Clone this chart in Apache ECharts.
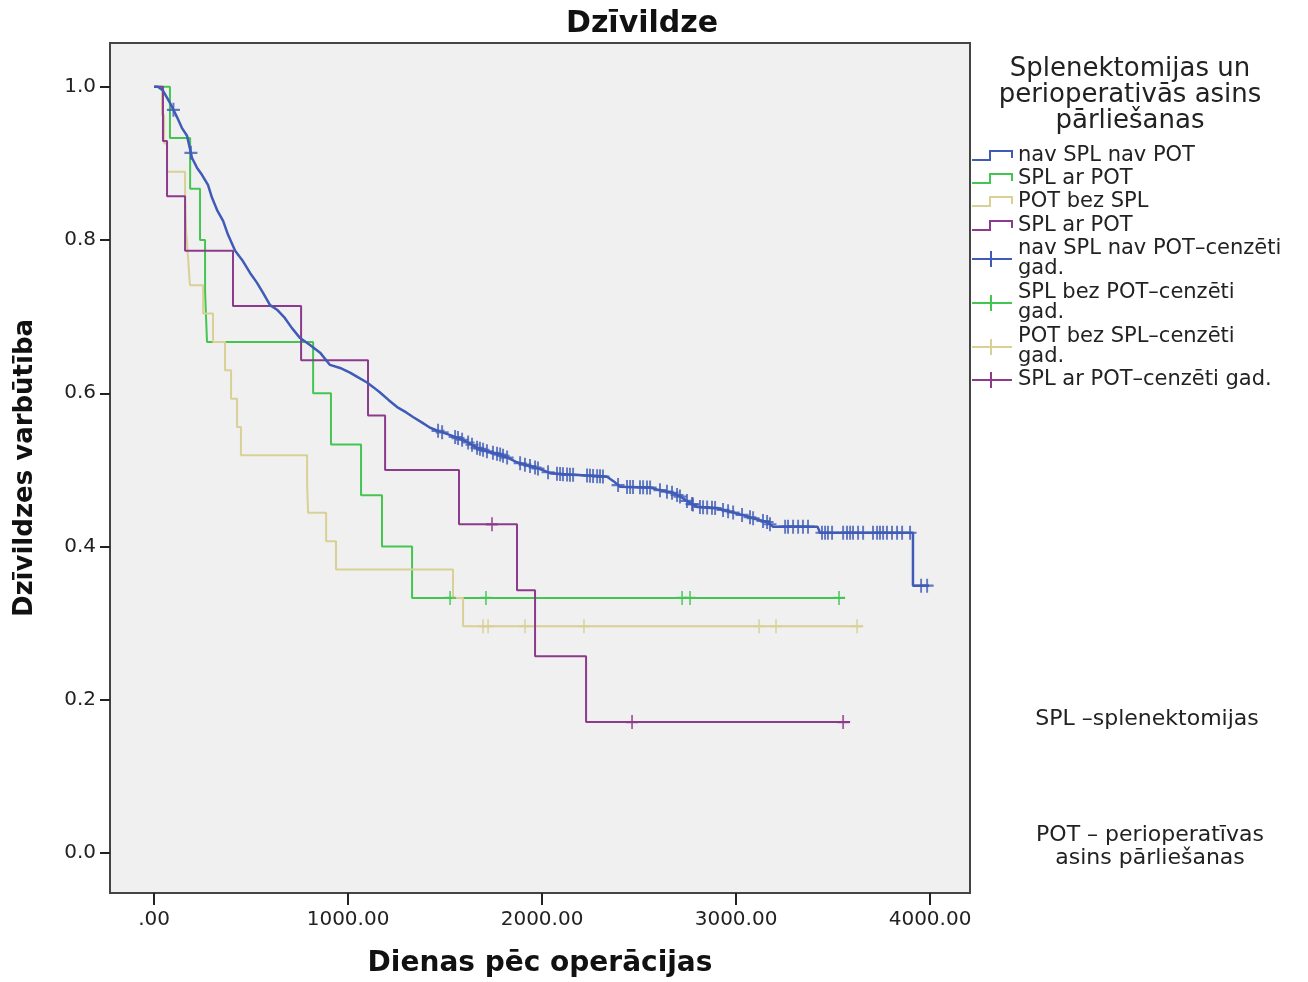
<!DOCTYPE html>
<html>
<head>
<meta charset="utf-8">
<title>Dzīvildze</title>
<script src="https://cdn.jsdelivr.net/npm/echarts@6/dist/echarts.min.js"></script>
<style>
  html, body { margin: 0; padding: 0; background: #fff; }
  #chart { width: 1308px; height: 982px; }
</style>
</head>
<body>
<div id="chart"></div>
<script>
// dati nolasīti no attēla (dienas, izdzīvošanas varbūtība)
var blueDays = [0, 20, 46, 82, 119, 144, 170, 196, 222, 247, 278, 299, 325, 356, 381, 418, 454, 495, 531, 562, 598, 634, 675, 711, 753, 804, 856, 907, 959, 1010, 1050, 1098, 1130, 1165, 1210, 1253, 1300, 1335, 1380, 1423, 1474, 1520, 1562, 1610, 1665, 1720, 1784, 1830, 1871, 1910, 1954, 2000, 2041, 2120, 2211, 2335, 2370, 2402, 2557, 2600, 2675, 2720, 2763, 2799, 2902, 2960, 3036, 3100, 3160, 3191, 3420, 3433, 3912, 3912, 3995];
var blueSurv = [1.0, 1.0, 0.995, 0.979, 0.960, 0.946, 0.936, 0.907, 0.894, 0.885, 0.872, 0.855, 0.839, 0.825, 0.807, 0.786, 0.774, 0.757, 0.744, 0.731, 0.715, 0.709, 0.698, 0.685, 0.672, 0.663, 0.653, 0.637, 0.633, 0.627, 0.621, 0.614, 0.608, 0.601, 0.591, 0.582, 0.575, 0.569, 0.562, 0.555, 0.550, 0.546, 0.542, 0.537, 0.529, 0.524, 0.520, 0.515, 0.510, 0.507, 0.504, 0.500, 0.496, 0.494, 0.493, 0.491, 0.485, 0.478, 0.477, 0.474, 0.470, 0.464, 0.457, 0.452, 0.450, 0.446, 0.441, 0.436, 0.432, 0.426, 0.426, 0.418, 0.418, 0.349, 0.349];
var blueCensor = [100, 190, 1464, 1485, 1552, 1567, 1588, 1619, 1639, 1665, 1680, 1696, 1716, 1747, 1768, 1784, 1799, 1820, 1887, 1912, 1938, 1964, 1979, 2031, 2077, 2093, 2108, 2129, 2144, 2160, 2232, 2247, 2263, 2284, 2299, 2314, 2392, 2438, 2454, 2469, 2505, 2521, 2541, 2557, 2608, 2644, 2670, 2696, 2711, 2747, 2773, 2778, 2814, 2830, 2851, 2876, 2892, 2933, 2959, 2985, 3031, 3072, 3088, 3139, 3160, 3175, 3253, 3268, 3294, 3320, 3345, 3371, 3443, 3459, 3474, 3495, 3552, 3572, 3588, 3603, 3629, 3655, 3706, 3727, 3742, 3758, 3778, 3804, 3830, 3856, 3897, 3954, 3985];

var greenDays = [0, 82, 186, 237, 263, 273, 820, 912, 1067, 1175, 1330, 3562];
var greenSurv = [1.0, 0.933, 0.867, 0.800, 0.733, 0.667, 0.600, 0.533, 0.467, 0.400, 0.333, 0.333];
var greenCensor = [1526, 1711, 2722, 2763, 3531];

var tanDays = [0, 41, 52, 67, 160, 165, 175, 185, 253, 304, 366, 397, 428, 448, 789, 794, 887, 938, 1541, 1593, 3655];
var tanSurv = [1.0, 0.963, 0.926, 0.889, 0.852, 0.815, 0.778, 0.741, 0.704, 0.667, 0.630, 0.593, 0.556, 0.519, 0.481, 0.444, 0.407, 0.370, 0.333, 0.296, 0.296];
var tanCensor = [1696, 1722, 1912, 2216, 3119, 3206, 3624];

var purpleDays = [0, 46, 67, 160, 407, 758, 1103, 1191, 1572, 1871, 1964, 2227, 3588];
var purpleSurv = [1.0, 0.929, 0.857, 0.786, 0.714, 0.643, 0.571, 0.500, 0.429, 0.343, 0.257, 0.171, 0.171];
var purpleCensor = [1742, 2464, 3552];

var xTicks = [0, 1000, 2000, 3000, 4000];
var yTicks = [0, 0.2, 0.4, 0.6, 0.8, 1.0];

var legendNames = [
  "nav SPL nav POT",
  "SPL ar POT",
  "POT bez SPL",
  "SPL ar POT",
  "nav SPL nav POT–cenzēti\ngad.",
  "SPL bez POT–cenzēti\ngad.",
  "POT bez SPL–cenzēti\ngad.",
  "SPL ar POT–cenzēti gad."
];

var BLUE = "#3F5BB7", GREEN = "#44C552", TAN = "#D8D095", PURPLE = "#8C3A8C";
var crossPath = "path://M0,5.1H12V6.9H0Z M5.1,0H6.9V12H5.1Z";

function pairs(days, surv) {
  return days.map(function (d, i) { return [d, surv[i]]; });
}
// cenzēto gadījumu y vērtība = līknes vērtība tajā dienā
function censorPoints(days, surv, cens, linear) {
  return cens.map(function (c) {
    var s = surv[0];
    for (var i = 0; i < days.length; i++) {
      if (days[i] <= c) {
        s = surv[i];
        if (linear && i + 1 < days.length && days[i + 1] > c) {
          var f = (c - days[i]) / (days[i + 1] - days[i]);
          s = surv[i] + f * (surv[i + 1] - surv[i]);
        }
      }
    }
    return [c, s];
  });
}

var chart = echarts.init(document.getElementById("chart"));

function stepSeries(name, color, days, surv, width, step) {
  return {
    name: name,
    type: "line",
    step: step,
    data: pairs(days, surv),
    showSymbol: false,
    lineStyle: { color: color, width: width },
    z: 2
  };
}
function censorSeries(name, color, days, surv, cens, size, linear) {
  return {
    name: name,
    type: "scatter",
    data: censorPoints(days, surv, cens, linear),
    symbol: crossPath,
    symbolSize: size,
    itemStyle: { color: color },
    z: 3
  };
}

// leģenda (zīmēta ar graphic)
var legendColors = [BLUE, GREEN, TAN, PURPLE, BLUE, GREEN, TAN, PURPLE];
var legendY = [156, 179, 202, 226, 259, 303, 347, 380];
var graphics = [];
legendNames.forEach(function (name, i) {
  var c = legendY[i];
  var col = legendColors[i];
  if (i < 4) {
    graphics.push({
      type: "polyline",
      shape: { points: [[972, c + 4], [990, c + 4], [990, c - 5], [1012, c - 5], [1012, c + 2]] },
      style: { stroke: col, lineWidth: 2, fill: null }
    });
  } else {
    graphics.push({
      type: "polyline",
      shape: { points: [[972, c], [1012, c]] },
      style: { stroke: col, lineWidth: 2, fill: null }
    });
    graphics.push({
      type: "polyline",
      shape: { points: [[991, c - 8], [991, c + 8]] },
      style: { stroke: col, lineWidth: 2, fill: null }
    });
  }
  graphics.push({
    type: "text",
    x: 1018,
    y: c,
    style: {
      text: name,
      font: "21px 'DejaVu Sans'",
      fill: "#222",
      verticalAlign: "middle",
      lineHeight: 20
    }
  });
});
graphics.push({
  type: "text",
  x: 1130, y: 95,
  style: {
    text: "Splenektomijas un\nperioperativās asins\npārliešanas",
    font: "26px 'DejaVu Sans'",
    fill: "#222",
    align: "center",
    verticalAlign: "middle",
    lineHeight: 26
  }
});
graphics.push({
  type: "text",
  x: 1147, y: 719,
  style: { text: "SPL –splenektomijas", font: "22px 'DejaVu Sans'", fill: "#222", align: "center", verticalAlign: "middle" }
});
graphics.push({
  type: "text",
  x: 1150, y: 847,
  style: {
    text: "POT – perioperatīvas\nasins pārliešanas",
    font: "22px 'DejaVu Sans'",
    fill: "#222",
    align: "center",
    verticalAlign: "middle",
    lineHeight: 23
  }
});

var option = {
  animation: false,
  backgroundColor: "#fff",
  title: {
    text: "Dzīvildze",
    left: 561,
    top: 4,
    textStyle: { fontFamily: "DejaVu Sans", fontWeight: "bold", fontSize: 30, color: "#111" }
  },
  grid: {
    left: 110, top: 43, right: 338, bottom: 89,
    outerBoundsMode: "none",
    show: true,
    backgroundColor: "#F0F0F0",
    borderColor: "#444",
    borderWidth: 2
  },
  xAxis: {
    type: "value",
    min: -227,
    max: 4206,
    name: "Dienas pēc operācijas",
    nameLocation: "middle",
    nameGap: 57,
    nameTextStyle: { fontFamily: "DejaVu Sans", fontWeight: "bold", fontSize: 28, color: "#111" },
    axisLine: { show: true, onZero: false, lineStyle: { color: "#444", width: 2 } },
    axisTick: { show: true, inside: false, customValues: xTicks, length: 12, lineStyle: { color: "#222", width: 2 } },
    axisLabel: {
      customValues: xTicks,
      margin: 17,
      fontFamily: "DejaVu Sans",
      fontSize: 20,
      color: "#222",
      formatter: function (v) { return v === 0 ? ".00" : v.toFixed(2); }
    },
    splitLine: { show: false }
  },
  yAxis: {
    type: "value",
    min: -0.052,
    max: 1.057,
    name: "Dzīvildzes varbūtība",
    nameLocation: "middle",
    nameGap: 72,
    nameTextStyle: { fontFamily: "DejaVu Sans", fontWeight: "bold", fontSize: 26, color: "#111" },
    axisLine: { show: true, onZero: false, lineStyle: { color: "#444", width: 2 } },
    axisTick: { show: true, inside: false, customValues: yTicks, length: 10, lineStyle: { color: "#222", width: 2 } },
    axisLabel: {
      customValues: yTicks,
      margin: 14,
      fontFamily: "DejaVu Sans",
      fontSize: 20,
      color: "#222",
      formatter: function (v) { return v.toFixed(1); }
    },
    splitLine: { show: false }
  },
  graphic: graphics,
  series: [
    stepSeries("SPL bez POT", GREEN, greenDays, greenSurv, 2, "end"),
    stepSeries("POT bez SPL", TAN, tanDays, tanSurv, 2, "end"),
    stepSeries("SPL ar POT", PURPLE, purpleDays, purpleSurv, 2, "end"),
    stepSeries("nav SPL nav POT", BLUE, blueDays, blueSurv, 2.5, false),
    censorSeries("SPL bez POT-cenzēti gad.", GREEN, greenDays, greenSurv, greenCensor, [12, 14], false),
    censorSeries("POT bez SPL-cenzēti gad.", TAN, tanDays, tanSurv, tanCensor, [12, 14], false),
    censorSeries("SPL ar POT-cenzēti gad.", PURPLE, purpleDays, purpleSurv, purpleCensor, [12, 14], false),
    censorSeries("nav SPL nav POT-cenzēti gad.", BLUE, blueDays, blueSurv, blueCensor, [13, 14], true)
  ]
};
chart.setOption(option);
</script>
</body>
</html>
